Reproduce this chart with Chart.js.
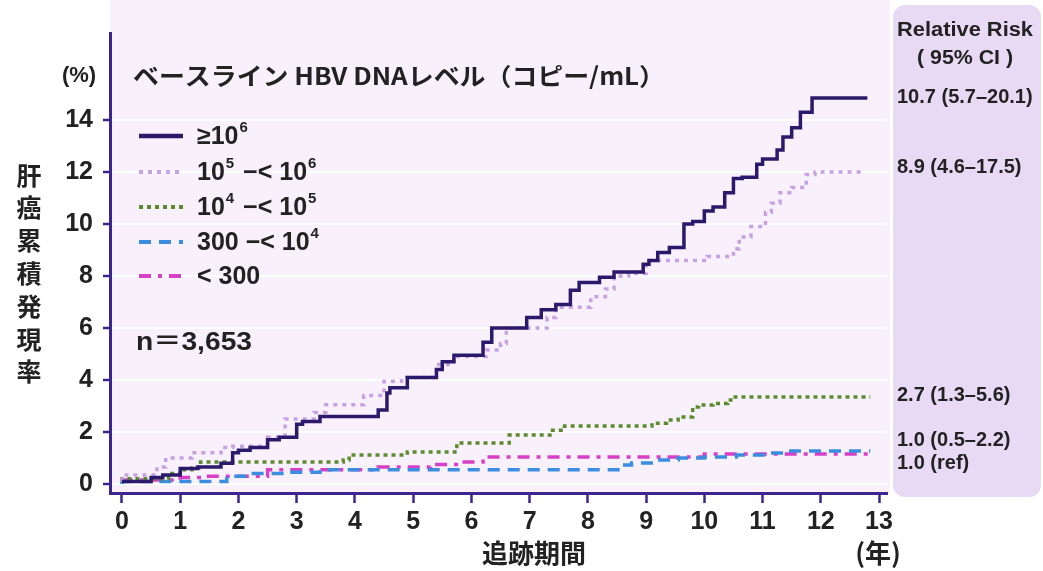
<!DOCTYPE html>
<html>
<head>
<meta charset="utf-8">
<script src="https://cdn.jsdelivr.net/npm/chart.js@4.4.1/dist/chart.umd.min.js"></script>
<style>
html, body { margin: 0; padding: 0; background: #fff; }
</style>
</head>
<body>
<canvas id="myChart" width="1043" height="571"></canvas>
<script>
// cumulative incidence of liver cancer (%) by follow-up year, per baseline HBV DNA group
const yrsHigh = [0, 0.5, 0.7, 1.0, 1.3, 1.7, 1.9, 2.0, 2.2, 2.5, 2.7, 3.0, 3.1, 3.4, 3.85, 4.4, 4.55, 4.6, 4.9, 5.0, 5.4, 5.5, 5.7, 6.2, 6.35, 6.55, 6.95, 7.2, 7.45, 7.7, 7.85, 8.2, 8.45, 8.65, 8.95, 9.05, 9.2, 9.4, 9.65, 9.8, 10.0, 10.15, 10.35, 10.5, 10.65, 10.9, 11.0, 11.25, 11.35, 11.5, 11.65, 11.85, 12.0, 12.8];
const incHigh = [0.1, 0.1, 0.25, 0.35, 0.6, 0.65, 0.8, 1.2, 1.3, 1.4, 1.7, 1.8, 2.3, 2.4, 2.6, 2.6, 2.85, 3.5, 3.7, 4.1, 4.1, 4.4, 4.7, 4.95, 5.45, 6.0, 6.0, 6.4, 6.7, 6.9, 7.45, 7.75, 7.95, 8.15, 8.15, 8.45, 8.6, 8.9, 9.1, 10.0, 10.1, 10.5, 10.65, 11.2, 11.75, 11.8, 12.3, 12.5, 12.85, 13.35, 13.7, 14.3, 14.85, 14.85];

const yrsMidHigh = [0, 0.6, 0.75, 1.2, 1.7, 1.9, 2.5, 2.8, 3.3, 3.5, 4.15, 4.5, 4.8, 5.4, 5.7, 6.25, 6.5, 6.6, 7.3, 7.45, 8.05, 8.3, 8.45, 8.7, 9.0, 9.05, 10.05, 10.5, 10.6, 10.8, 11.05, 11.15, 11.3, 11.5, 11.75, 11.9, 11.95, 12.7];
const incMidHigh = [0.1, 0.35, 0.65, 1.0, 1.2, 1.4, 1.45, 1.8, 2.5, 2.75, 3.05, 3.4, 3.95, 4.1, 4.6, 4.9, 5.15, 5.4, 6.0, 6.4, 6.8, 7.2, 7.5, 8.0, 8.1, 8.4, 8.6, 8.75, 9.05, 9.5, 9.9, 10.45, 10.8, 11.2, 11.4, 11.9, 12.0, 12.0];

const yrsMid = [0, 0.8, 1.0, 1.2, 1.35, 3.8, 3.9, 4.9, 5.75, 6.65, 7.35, 7.6, 9.1, 9.35, 9.55, 9.8, 9.9, 10.15, 10.4, 10.5, 10.65, 12.85];
const incMid = [0.1, 0.2, 0.4, 0.55, 0.62, 0.85, 0.92, 1.12, 1.23, 1.58, 1.88, 2.07, 2.23, 2.34, 2.46, 2.58, 2.96, 3.04, 3.1, 3.23, 3.35, 3.35];

const yrsLow = [0, 1.8, 2.2, 2.8, 3.4, 8.6, 8.75, 9.2, 9.55, 10.0, 10.55, 11.05, 11.4, 11.6, 12.85];
const incLow = [0.0, 0.1, 0.3, 0.4, 0.45, 0.55, 0.73, 0.81, 0.92, 1.0, 1.04, 1.12, 1.19, 1.27, 1.27];

const yrsRef = [0, 1.0, 1.4, 2.5, 4.4, 5.3, 5.8, 6.2, 10.0, 11.6, 12.85];
const incRef = [0.1, 0.15, 0.25, 0.3, 0.55, 0.65, 0.75, 0.85, 1.04, 1.15, 1.15];

const xTickVals = [0, 1, 2, 3, 4, 5, 6, 7, 8, 9, 10, 11, 12, 13];
const yTickVals = [0, 2, 4, 6, 8, 10, 12, 14];
const legendLabels = ['≥10^6', '10^5 −< 10^6', '10^4 −< 10^5', '300 −< 10^4', '< 300'];
const rrLabels = ['10.7 (5.7–20.1)', '8.9 (4.6–17.5)', '2.7 (1.3–5.6)', '1.0 (0.5–2.2)', '1.0 (ref)'];

const FONT = "'Liberation Sans', 'Noto Sans CJK JP', sans-serif";
const JP = "'Noto Sans CJK JP', 'Liberation Sans', sans-serif";
const AXIS = '#3d2590';

function pts(xs, ys) {
  return xs.map((x, i) => ({ x: x, y: ys[i] }));
}

function fitText(ctx, str, x, y, w, align) {
  const k = w / ctx.measureText(str).width;
  ctx.save();
  ctx.translate(x, y);
  ctx.scale(k, 1);
  ctx.textAlign = align || 'left';
  ctx.fillText(str, 0, 0);
  ctx.restore();
}

function drawSup(ctx, str, x, y, size) {
  const parts = str.split(/\^(\d)/);
  let cx = x;
  parts.forEach((p, i) => {
    if (i % 2 === 0) {
      ctx.font = 'bold ' + size + 'px ' + FONT;
      ctx.fillText(p, cx, y);
      cx += ctx.measureText(p).width;
    } else {
      ctx.font = 'bold ' + Math.round(size * 0.6) + 'px ' + FONT;
      ctx.fillText(p, cx + 1, y - size * 0.36);
      cx += ctx.measureText(p).width + 3;
    }
  });
}

const decor = {
  id: 'decor',
  beforeDraw(chart) {
    const ctx = chart.ctx, a = chart.chartArea;
    ctx.save();
    ctx.fillStyle = '#f8f1fb';
    ctx.fillRect(a.left, 0, 890 - a.left, a.bottom);
    ctx.fillStyle = '#e8d9f5';
    ctx.beginPath();
    ctx.roundRect(893, 5, 148, 492, 12);
    ctx.fill();
    ctx.restore();
  },
  afterDraw(chart) {
    const ctx = chart.ctx;
    ctx.save();
    ctx.fillStyle = '#222';
    ctx.textBaseline = 'middle';

    // legend title
    ctx.font = 'bold 24px ' + JP;
    fitText(ctx, 'ベースライン HBV DNAレベル（コピー/mL）', 133, 76, 532);

    // legend rows
    const rowY = [136, 172, 207, 242, 276];
    chart.data.datasets.forEach((ds, i) => {
      ctx.strokeStyle = ds.borderColor;
      ctx.lineWidth = i === 0 ? 4.5 : 4;
      ctx.setLineDash(ds.borderDash || []);
      ctx.beginPath();
      ctx.moveTo(139, rowY[i]);
      ctx.lineTo(183, rowY[i]);
      ctx.stroke();
      ctx.setLineDash([]);
      drawSup(ctx, legendLabels[i], 197, rowY[i] + 1, 25);
    });

    ctx.font = 'bold 26px ' + FONT;
    fitText(ctx, 'n＝3,653', 136, 343, 116);

    // y axis unit + title
    ctx.font = 'bold 22px ' + FONT;
    ctx.textAlign = 'center';
    ctx.fillText('(%)', 79, 76);
    ctx.font = 'bold 25px ' + JP;
    '肝癌累積発現率'.split('').forEach((c, i) => {
      ctx.fillText(c, 29, 175 + i * 32.8);
    });

    // x axis title
    ctx.font = 'bold 26px ' + JP;
    ctx.fillText('追跡期間', 534, 553);
    ctx.fillText('(年)', 878, 553);

    // relative risk panel
    ctx.font = 'bold 20px ' + FONT;
    fitText(ctx, 'Relative Risk', 965, 30, 136, 'center');
    fitText(ctx, '( 95% CI )', 965, 58, 96, 'center');
    const rrY = [97, 167, 395, 440, 463];
    rrLabels.forEach((t, i) => {
      ctx.textAlign = 'left';
      ctx.fillText(t, 897, rrY[i], 140);
    });
    ctx.restore();
  }
};

const line = (data, color, dash, width) => ({
  data: data,
  borderColor: color,
  borderDash: dash,
  borderWidth: width,
  stepped: 'after',
  pointRadius: 0,
  fill: false
});

const ctx = document.getElementById('myChart').getContext('2d');
const myChart = new Chart(ctx, {
  type: 'line',
  data: {
    datasets: [
      line(pts(yrsHigh, incHigh), '#2b1a6b', [], 3.5),
      line(pts(yrsMidHigh, incMidHigh), '#c6a2e2', [4, 5], 3.5),
      line(pts(yrsMid, incMid), '#5c8a2e', [4, 4], 3.5),
      line(pts(yrsLow, incLow), '#3b8de0', [12, 8], 3.5),
      line(pts(yrsRef, incRef), '#d63fc6', [12, 7, 4, 7], 3.5)
    ]
  },
  options: {
    responsive: false,
    animation: false,
    layout: { padding: { left: 0, right: 156, top: 33, bottom: 0 } },
    plugins: { legend: { display: false }, tooltip: { enabled: false } },
    scales: {
      x: {
        type: 'linear',
        min: -0.206,
        max: 13.137,
        afterBuildTicks: s => { s.ticks = xTickVals.map(v => ({ value: v })); },
        afterFit: s => { s.height = 78; },
        border: { color: AXIS, width: 3 },
        grid: { drawOnChartArea: false, tickColor: AXIS, tickLength: 10, tickWidth: 2.5 },
        ticks: { font: { family: FONT, size: 25, weight: 'bold' }, color: '#222', padding: 4, maxRotation: 0, autoSkip: false }
      },
      y: {
        type: 'linear',
        min: -0.346,
        max: 17.346,
        afterBuildTicks: s => { s.ticks = yTickVals.map(v => ({ value: v })); },
        afterFit: s => { s.width = 110; },
        border: { color: AXIS, width: 3 },
        grid: { color: 'rgba(255,255,255,0.95)', lineWidth: 2, tickColor: AXIS, tickLength: 7, tickWidth: 2.5 },
        ticks: { font: { family: FONT, size: 25, weight: 'bold' }, color: '#222', padding: 10 }
      }
    }
  },
  plugins: [decor]
});
</script>
</body>
</html>
